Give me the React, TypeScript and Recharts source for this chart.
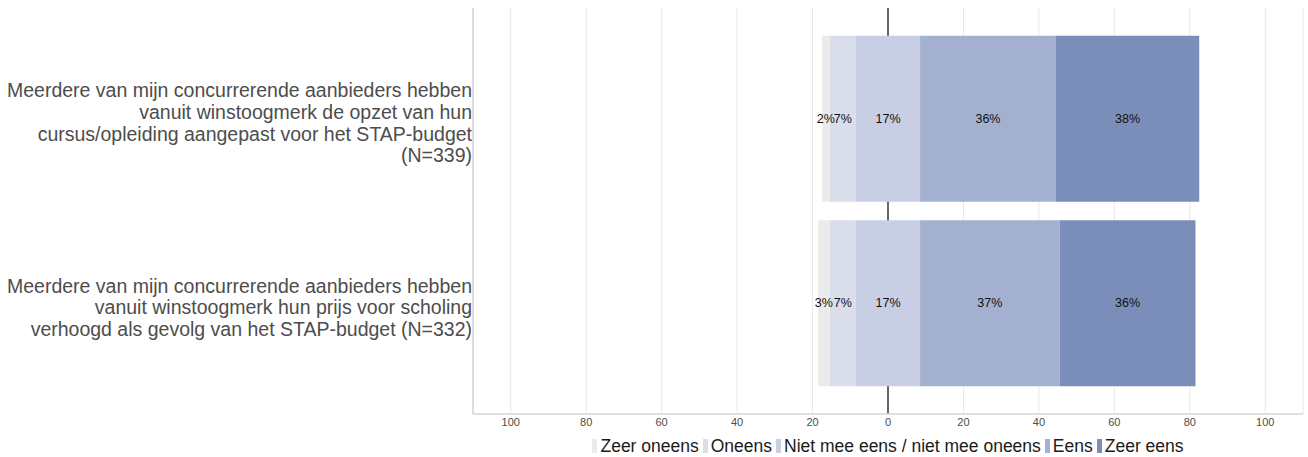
import React from "react";
import {
  BarChart,
  Bar,
  XAxis,
  YAxis,
  CartesianGrid,
  LabelList,
  Legend,
} from "recharts";

// stellingen (regels zoals in het origineel afgebroken)
const statements = [
  [
    "Meerdere van mijn concurrerende aanbieders hebben",
    "vanuit winstoogmerk de opzet van hun",
    "cursus/opleiding aangepast voor het STAP-budget",
    "(N=339)",
  ],
  [
    "Meerdere van mijn concurrerende aanbieders hebben",
    "vanuit winstoogmerk hun prijs voor scholing",
    "verhoogd als gevolg van het STAP-budget (N=332)",
  ],
];

// percentages per antwoordcategorie
const zeerOneens = [2, 3];
const oneens = [7, 7];
const neutraal = [17, 17];
const eens = [36, 37];
const zeerEens = [38, 36];

const xTicks = [-100, -80, -60, -40, -20, 0, 20, 40, 60, 80, 100];

const categories = [
  "Zeer oneens",
  "Oneens",
  "Niet mee eens / niet mee oneens",
  "Eens",
  "Zeer eens",
];
const colors = ["#ebebeb", "#dadeea", "#c8cee4", "#a3b0cf", "#7b8eb9"];

// links negatief, rechts positief; neutraal wordt over 0 verdeeld
const data = statements.map((lines, i) => ({
  name: lines.join("\n"),
  zeerOneens: -zeerOneens[i],
  oneens: -oneens[i],
  neutraalNeg: -neutraal[i] / 2,
  neutraalPos: neutraal[i] / 2,
  neutraal: neutraal[i],
  eens: eens[i],
  zeerEens: zeerEens[i],
}));

const zeroIndex = xTicks.indexOf(0);

function StatementTick(props: any) {
  const { x, y, payload } = props;
  const lines = String(payload.value).split("\n");
  const lh = 21.7;
  const first = y - ((lines.length - 1) * lh) / 2 + 11;
  return (
    <text x={x} y={first} textAnchor="end" fontSize={19.5} fill="#4d4d4d">
      {lines.map((l, i) => (
        <tspan key={i} x={x} y={first + i * lh}>
          {l}
        </tspan>
      ))}
    </text>
  );
}

// verticale rasterlijnen; de 0-lijn zwart, achter de balken
function GridLine(props: any) {
  const { x1, y1, x2, y2, index } = props;
  const zero = index === zeroIndex;
  return (
    <line
      x1={x1}
      y1={y1}
      x2={x2}
      y2={y2}
      stroke={zero ? "#000" : "#e8e8e8"}
      strokeWidth={zero ? 1.2 : 1}
    />
  );
}

// label midden in het segment, of op de 0-lijn voor neutraal
const segLabel = (atStart: boolean) => (props: any) => {
  const { x, y, width, height, value } = props;
  if (value == null) return null;
  const cx = atStart ? x : x + width / 2;
  return (
    <text
      x={cx}
      y={y + height / 2}
      textAnchor="middle"
      dominantBaseline="central"
      fontSize={12.5}
      fill="#111"
    >
      {Math.abs(value)}%
    </text>
  );
};

function LegendContent() {
  return (
    <div
      style={{
        display: "flex",
        justifyContent: "center",
        alignItems: "center",
        fontSize: 17.5,
        lineHeight: "20px",
        color: "#1a1a1a",
        whiteSpace: "nowrap",
      }}
    >
      {categories.map((c, i) => (
        <span
          key={c}
          style={{ display: "flex", alignItems: "center", marginRight: i < 4 ? 4 : 0 }}
        >
          <span
            style={{
              display: "inline-block",
              width: 5,
              height: 14,
              background: colors[i],
              marginRight: 3,
            }}
          />
          {c}
        </span>
      ))}
    </div>
  );
}

export default function App() {
  return (
    <div
      style={{
        position: "absolute",
        left: 0,
        top: 0,
        width: 1308,
        height: 457,
        overflow: "hidden",
        background: "#fff",
        fontFamily: "'Liberation Sans', Arial, sans-serif",
      }}
    >
      <BarChart
        width={1308}
        height={457}
        data={data}
        layout="vertical"
        stackOffset="sign"
        barCategoryGap="5%"
        margin={{ top: 8, right: 5, bottom: 18, left: 0 }}
      >
        <CartesianGrid horizontal={false} vertical={(p: any) => <GridLine {...p} />} />
        <XAxis
          type="number"
          domain={[-110, 110]}
          ticks={xTicks}
          tickFormatter={(v: number) => String(Math.abs(v))}
          height={25}
          tickLine={false}
          tickSize={0}
          tickMargin={4}
          axisLine={{ stroke: "#d6d6d6", strokeWidth: 1.5 }}
          tick={{ fontSize: 11, fill: "#4d4d4d" }}
          allowDataOverflow
        />
        <YAxis
          type="category"
          dataKey="name"
          width={473}
          tickLine={false}
          tickSize={0}
          tickMargin={1}
          axisLine={{ stroke: "#d6d6d6", strokeWidth: 1.5 }}
          padding={{ top: 18.5, bottom: 18.5 }}
          tick={<StatementTick />}
          interval={0}
        />
        <Bar dataKey="neutraalNeg" stackId="a" fill={colors[2]} isAnimationActive={false} />
        <Bar dataKey="neutraalPos" stackId="a" fill={colors[2]} isAnimationActive={false}>
          <LabelList dataKey="neutraal" content={segLabel(true)} />
        </Bar>
        <Bar dataKey="oneens" stackId="a" fill={colors[1]} isAnimationActive={false}>
          <LabelList dataKey="oneens" content={segLabel(false)} />
        </Bar>
        <Bar dataKey="eens" stackId="a" fill={colors[3]} isAnimationActive={false}>
          <LabelList dataKey="eens" content={segLabel(false)} />
        </Bar>
        <Bar dataKey="zeerOneens" stackId="a" fill={colors[0]} isAnimationActive={false}>
          <LabelList dataKey="zeerOneens" content={segLabel(false)} />
        </Bar>
        <Bar dataKey="zeerEens" stackId="a" fill={colors[4]} isAnimationActive={false}>
          <LabelList dataKey="zeerEens" content={segLabel(false)} />
        </Bar>
        <Legend
          layout="horizontal"
          verticalAlign="middle"
          align="center"
          wrapperStyle={{ top: 436, left: 473, width: 830, height: 20 }}
          content={() => <LegendContent />}
        />
      </BarChart>
    </div>
  );
}
